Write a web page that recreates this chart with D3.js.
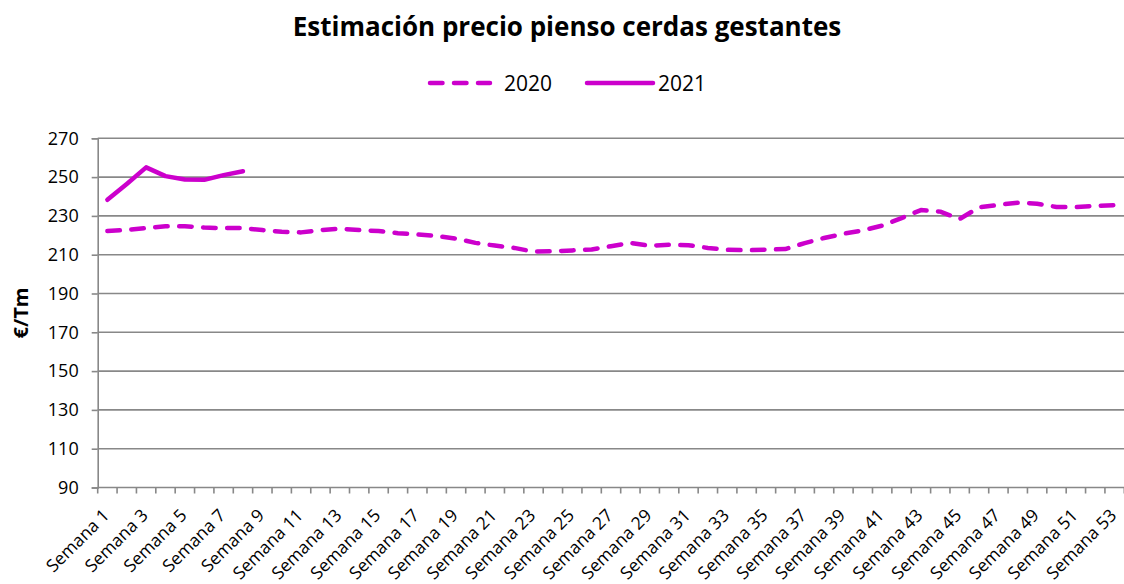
<!DOCTYPE html>
<html lang="es">
<head>
<meta charset="utf-8">
<script src="https://cdn.jsdelivr.net/npm/d3@7"></script>
<style>
  body { margin: 0; background: #fff; }
  text { font-family: 'Open Sans', sans-serif; fill: #000; }
</style>
</head>
<body>
<div id="chart"></div>
<script>
// semanas 1..53
var weeks = d3.range(1, 54).map(function(i){ return "Semana " + i; });

var price2020 = [222.2, 222.8, 223.7, 224.7, 224.7, 224.0, 223.7, 223.7, 222.7, 221.8,
                 221.5, 222.7, 223.4, 222.7, 222.2, 221.1, 220.4, 219.7, 218.3, 216.1,
                 214.7, 213.5, 211.6, 211.8, 212.2, 212.7, 214.4, 216.1, 214.6, 215.1,
                 214.9, 213.5, 212.5, 212.3, 212.6, 212.9, 216.0, 218.6, 220.8, 222.5,
                 225.0, 228.9, 233.0, 232.2, 228.4, 234.4, 235.7, 236.8, 236.3, 234.6,
                 234.5, 235.2, 235.5];

var price2021 = [238.3, 246.5, 255.0, 250.5, 248.8, 248.6, 251.0, 253.0];

var yTicks = d3.range(90, 271, 20);
var seriesNames = ["2020", "2021"];

var W = 1124, H = 584;
var color = "#cc00cc";
var gridColor = "#888888";

var svg = d3.select('#chart').append('svg').attr('width', W).attr('height', H);

var x = d3.scaleBand().domain(weeks).range([97.7, 1124.3]);
var y = d3.scaleLinear().domain([90, 270]).range([487.5, 138.3]);

// title
svg.append('text')
  .attr('x', 567).attr('y', 36)
  .attr('text-anchor', 'middle')
  .style('font-size', '26px').style('font-weight', 'bold')
  .text('Estimación precio pienso cerdas gestantes');

// gridlines
svg.append('g').selectAll('line').data(yTicks.slice(1)).enter().append('line')
  .attr('x1', x.range()[0]).attr('x2', x.range()[1])
  .attr('y1', function(d){ return y(d); }).attr('y2', function(d){ return y(d); })
  .attr('stroke', gridColor).attr('stroke-width', 1.6);

// y axis
var yAxis = svg.append('g').attr('transform', 'translate(' + x.range()[0] + ',0)')
  .call(d3.axisLeft(y).tickValues(yTicks).tickSize(6).tickPadding(13));
yAxis.select('.domain').attr('stroke', gridColor).attr('stroke-width', 1.6);
yAxis.selectAll('.tick line').attr('stroke', gridColor).attr('stroke-width', 1.6);
yAxis.selectAll('.tick text').style('font-size', '18px').style('font-family', "'Open Sans', sans-serif").attr('fill', '#000');

// x axis: line + ticks at category boundaries
var xg = svg.append('g');
xg.append('line')
  .attr('x1', x.range()[0]).attr('x2', x.range()[1])
  .attr('y1', y(90)).attr('y2', y(90))
  .attr('stroke', gridColor).attr('stroke-width', 1.6);
var bounds = weeks.map(function(w){ return x(w); }).concat([x.range()[1]]);
xg.selectAll('.xt').data(bounds).enter().append('line').attr('class', 'xt')
  .attr('x1', function(d){ return d; }).attr('x2', function(d){ return d; })
  .attr('y1', y(90)).attr('y2', y(90) + 6)
  .attr('stroke', gridColor).attr('stroke-width', 1.6);
xg.selectAll('.xl').data(weeks.filter(function(d, i){ return i % 2 == 0; })).enter().append('text').attr('class', 'xl')
  .attr('text-anchor', 'end')
  .style('font-size', '17.5px')
  .attr('transform', function(d){
    return 'translate(' + (x(d) + x.bandwidth() / 2 + 3) + ',' + (y(90) + 29) + ') rotate(-45)';
  })
  .text(function(d){ return d; });

// y label
svg.append('text')
  .attr('transform', 'translate(28,313) rotate(-90)')
  .attr('text-anchor', 'middle')
  .style('font-size', '20px').style('font-weight', 'bold')
  .text('€/Tm');

// lines
var line = d3.line()
  .x(function(d, i){ return x(weeks[i]) + x.bandwidth() / 2; })
  .y(function(d){ return y(d); });

svg.append('path').datum(price2020)
  .attr('d', line)
  .attr('fill', 'none').attr('stroke', color).attr('stroke-width', 4.5)
  .attr('stroke-dasharray', '12.5,11.5').attr('stroke-linecap', 'round').attr('stroke-linejoin', 'round');

svg.append('path').datum(price2021)
  .attr('d', line)
  .attr('fill', 'none').attr('stroke', color).attr('stroke-width', 4.5)
  .attr('stroke-linecap', 'round').attr('stroke-linejoin', 'round');

// legend
var leg = svg.append('g');
leg.append('line').attr('x1', 430).attr('x2', 490).attr('y1', 83).attr('y2', 83)
  .attr('stroke', color).attr('stroke-width', 4.5)
  .attr('stroke-dasharray', '12.5,11.5').attr('stroke-linecap', 'round');
leg.append('text').attr('x', 504).attr('y', 90.5).style('font-size', '21px').text(seriesNames[0]);
leg.append('line').attr('x1', 587).attr('x2', 653).attr('y1', 83).attr('y2', 83)
  .attr('stroke', color).attr('stroke-width', 4.5).attr('stroke-linecap', 'round');
leg.append('text').attr('x', 658).attr('y', 90.5).style('font-size', '21px').text(seriesNames[1]);
</script>
</body>
</html>
